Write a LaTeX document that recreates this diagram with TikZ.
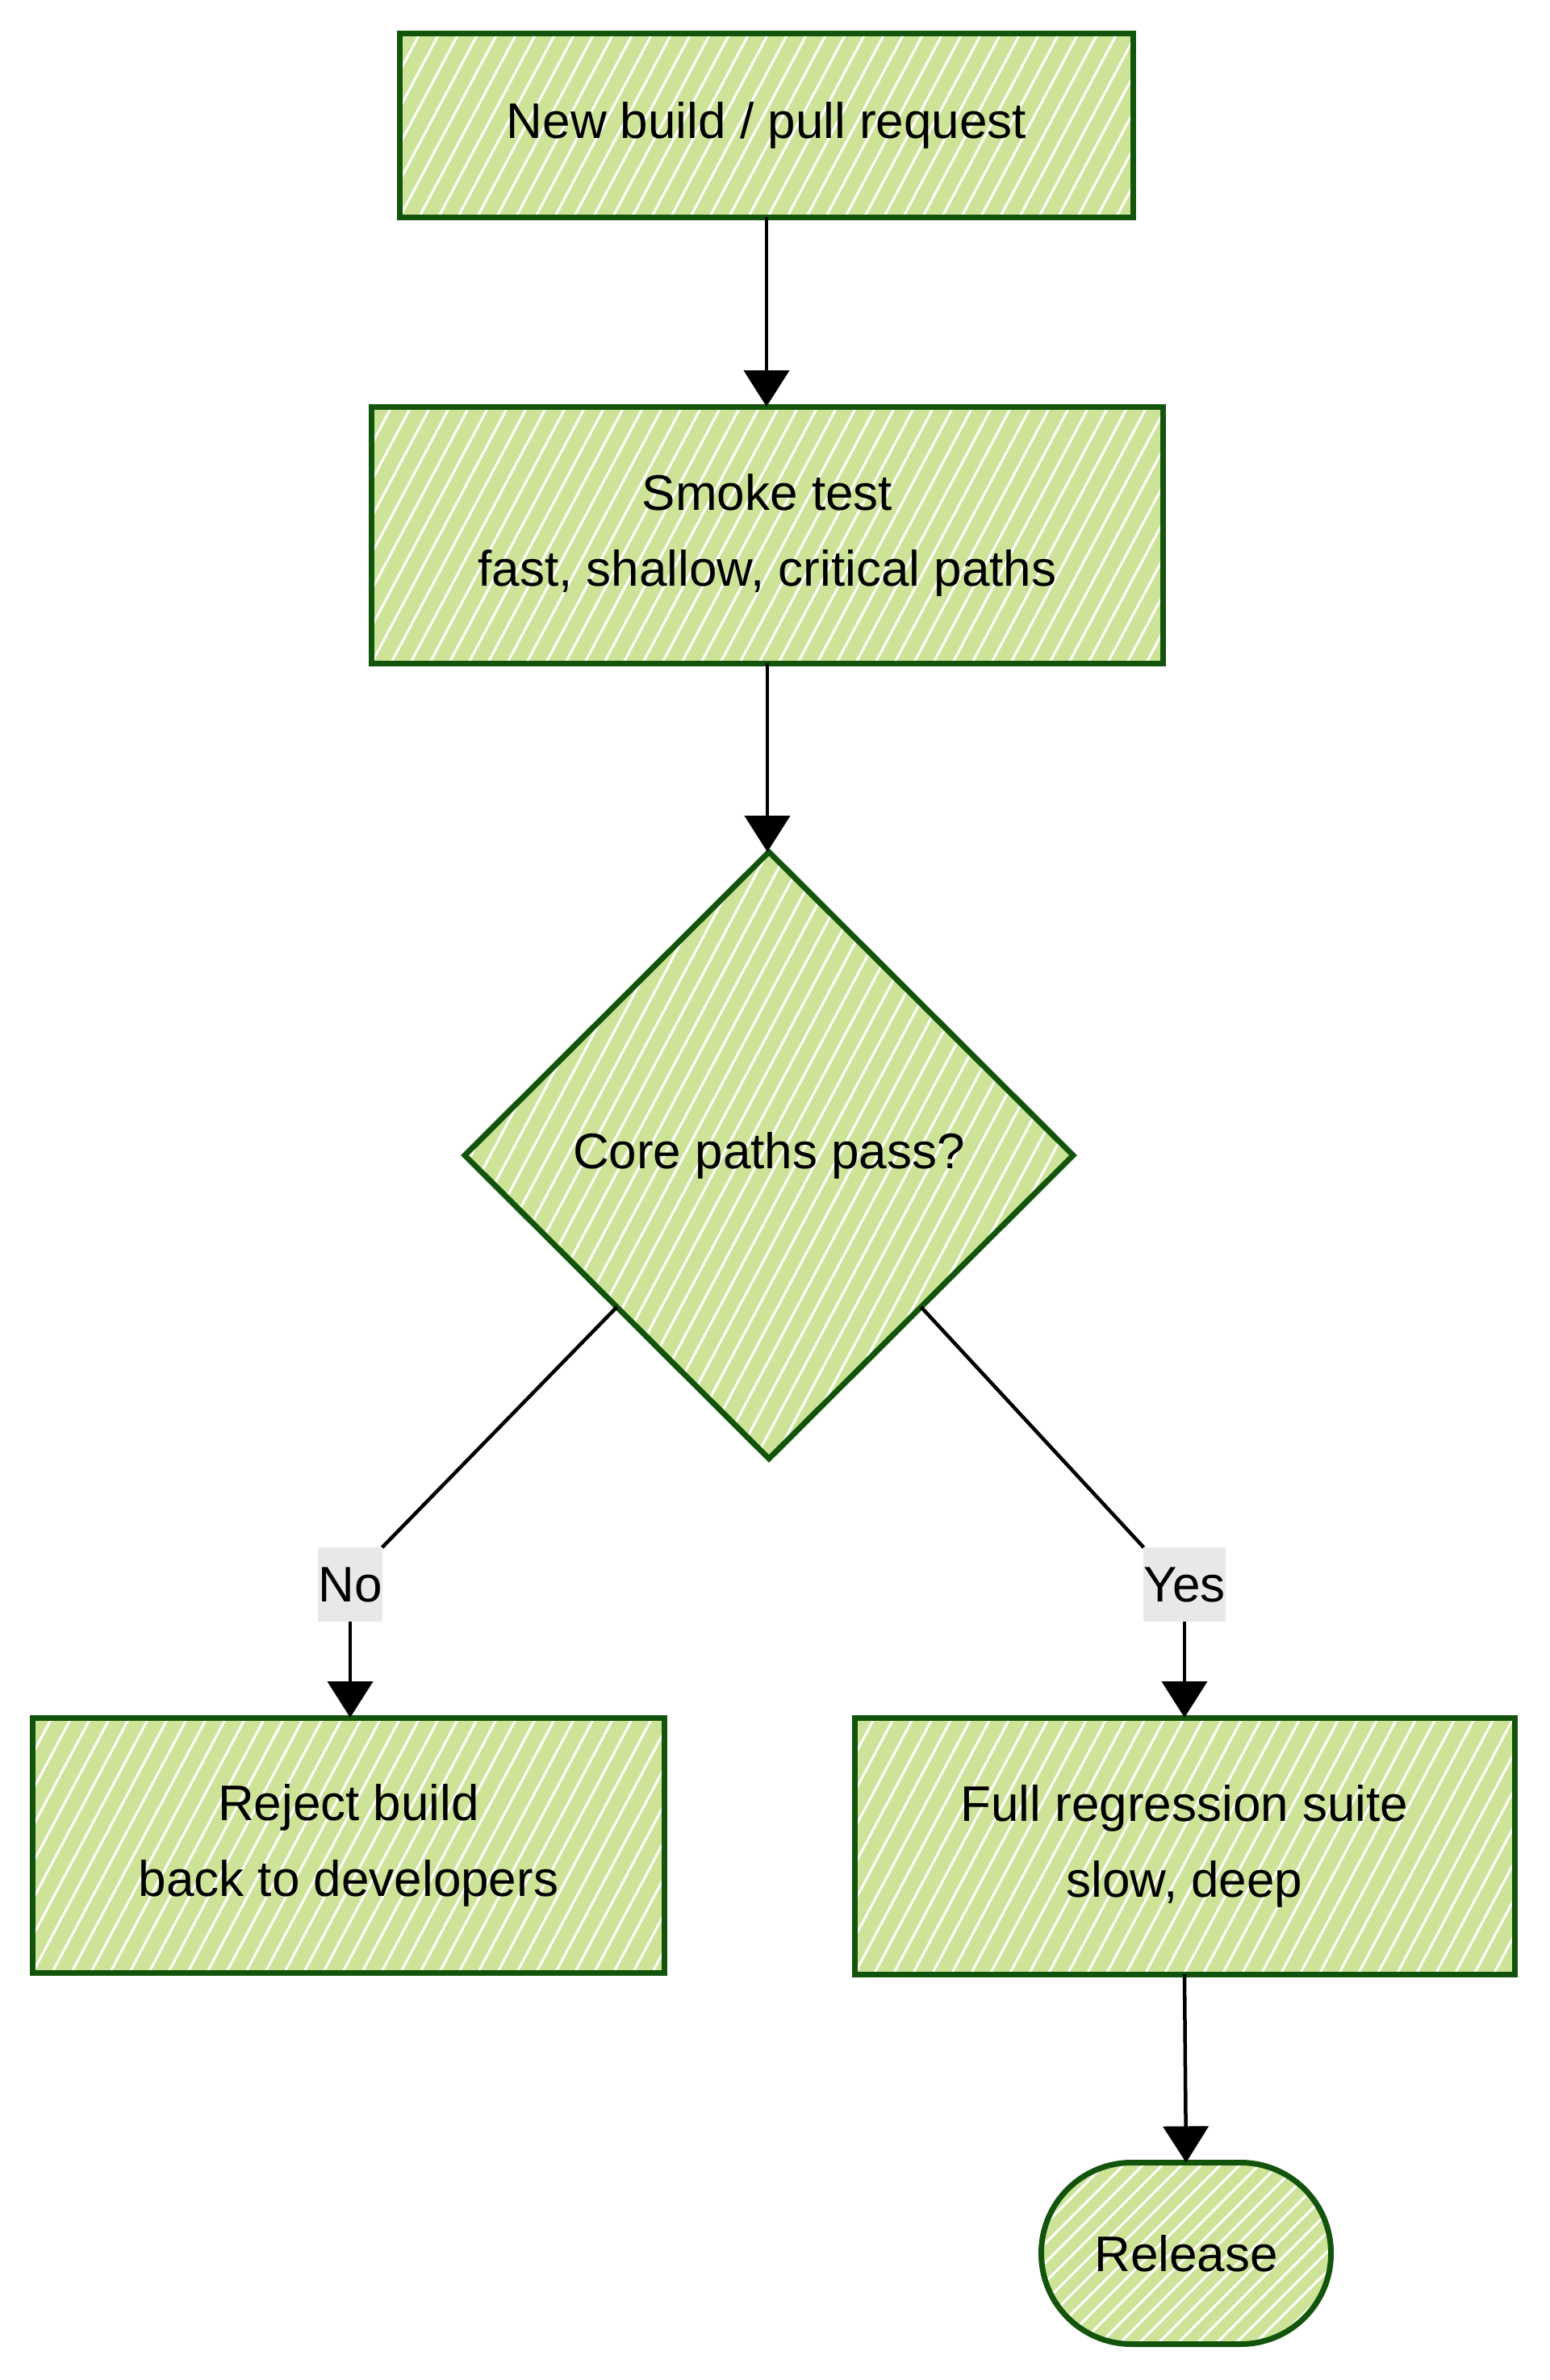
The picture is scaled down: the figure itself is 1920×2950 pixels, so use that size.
\documentclass[tikz,border=0pt]{standalone}
\usepackage{fontspec}
\setmainfont{Liberation Sans}
\usetikzlibrary{shapes.geometric,arrows.meta}
\definecolor{boxfill}{HTML}{CDE498}
\definecolor{boxline}{HTML}{13540C}
\definecolor{lblgray}{HTML}{E8E8E8}
\tikzset{
  hatch/.style={path picture={
    \foreach \i in {-40,...,60}{
      \draw[white,line width=3pt]
        ([xshift=\i*24pt]path picture bounding box.south west) -- ++(#1);
    }}},
  hatch/.default={425pt,800pt},
  procbox/.style={draw=boxline, fill=boxfill, line width=7pt, hatch,
    rectangle, inner sep=0pt, outer sep=0pt, align=center,
    font=\fontsize{62}{94}\selectfont},
  decbox/.style={procbox, diamond, aspect=1},
  termbox/.style={procbox, rounded corners=112pt, hatch={400pt,400pt}},
  elabel/.style={fill=lblgray, inner sep=0pt, outer sep=0pt,
    minimum height=92pt, font=\fontsize{62}{94}\selectfont},
  conn/.style={draw=black, line width=4.5pt},
  arr/.style={conn, -{Triangle[length=45pt,width=56pt]}}
}
\begin{document}
\begin{tikzpicture}[x=1pt,y=-1pt]
\useasboundingbox[fill=white] (0,0) rectangle (1920,2950);

\node[procbox, minimum width=909pt, minimum height=228pt] (b1) at (950,155) {New build / pull request};
\node[procbox, minimum width=981pt, minimum height=318pt] (b2) at (951,663) {Smoke test\\fast, shallow, critical paths};
\node[decbox, minimum width=754pt, minimum height=752pt] (d) at (953,1432) {Core paths pass?};
\node[procbox, minimum width=783pt, minimum height=316pt] (rej) at (432,2287) {Reject build\\back to developers};
\node[procbox, minimum width=818pt, minimum height=318pt] (full) at (1468,2288) {Full regression suite\\slow, deep};
\node[termbox, minimum width=359pt, minimum height=225pt] (rel) at (1470,2793) {Release};

\node[elabel] (no) at (434,1964) {No};
\node[elabel] (yes) at (1468,1964) {Yes};

\draw[arr] (b1.south) -- (b1.south |- b2.north);
\draw[arr] (b2.south) -- (b2.south |- d.north);
\draw[conn] (d.south west) -- (no.north east);
\draw[arr] (no.south) -- (no.south |- rej.north);
\draw[conn] (d.south east) -- (yes.north west);
\draw[arr] (yes.south) -- (yes.south |- full.north);
\draw[arr] (full.south) -- (rel.north);
\end{tikzpicture}
\end{document}
